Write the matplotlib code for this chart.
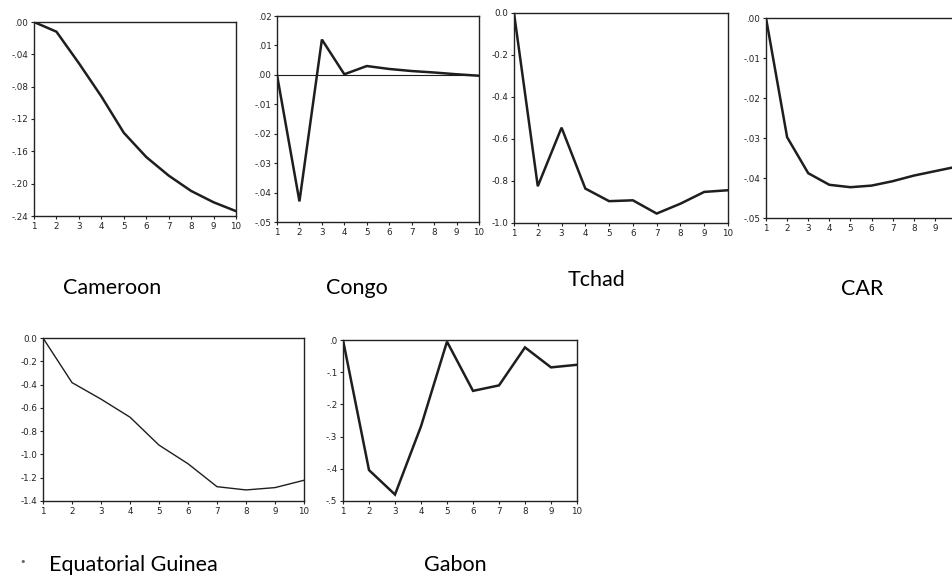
import matplotlib
matplotlib.use("Agg")
import matplotlib.pyplot as plt

periods = [1, 2, 3, 4, 5, 6, 7, 8, 9, 10]

cameroon = [0.0, -0.012, -0.051, -0.092, -0.137, -0.167, -0.190, -0.209, -0.223, -0.234]
congo = [0.0, -0.043, 0.012, 0.0002, 0.003, 0.002, 0.0013, 0.0008, 0.0002, -0.0003]
tchad = [0.0, -0.825, -0.546, -0.836, -0.896, -0.892, -0.955, -0.908, -0.852, -0.844]
car = [0.0, -0.0298, -0.0388, -0.0417, -0.0423, -0.0419, -0.0408, -0.0394, -0.0383, -0.0372]
eq_guinea = [0.0, -0.383, -0.525, -0.68, -0.92, -1.08, -1.277, -1.305, -1.285, -1.222]
gabon = [0.0, -0.404, -0.48, -0.268, -0.005, -0.158, -0.141, -0.023, -0.085, -0.077]

names = ["Cameroon", "Congo", "Tchad", "CAR", "Equatorial Guinea", "Gabon"]

x_labels = [str(p) for p in periods]
car_x_labels = [str(p) for p in periods[:-1]] + [""]
cam_ticks = [0.0, -0.04, -0.08, -0.12, -0.16, -0.20, -0.24]
cam_labels = [".00", "-.04", "-.08", "-.12", "-.16", "-.20", "-.24"]
con_ticks = [0.02, 0.01, 0.0, -0.01, -0.02, -0.03, -0.04, -0.05]
con_labels = [".02", ".01", ".00", "-.01", "-.02", "-.03", "-.04", "-.05"]
tch_ticks = [0.0, -0.2, -0.4, -0.6, -0.8, -1.0]
tch_labels = ["0.0", "-0.2", "-0.4", "-0.6", "-0.8", "-1.0"]
car_ticks = [0.0, -0.01, -0.02, -0.03, -0.04, -0.05]
car_labels = [".00", "-.01", "-.02", "-.03", "-.04", "-.05"]
eqg_ticks = [0.0, -0.2, -0.4, -0.6, -0.8, -1.0, -1.2, -1.4]
eqg_labels = ["0.0", "-0.2", "-0.4", "-0.6", "-0.8", "-1.0", "-1.2", "-1.4"]
gab_ticks = [0.0, -0.1, -0.2, -0.3, -0.4, -0.5]
gab_labels = [".0", "-.1", "-.2", "-.3", "-.4", "-.5"]

W, H = 953, 576
fig = plt.figure(figsize=(W / 100, H / 100), dpi=100)

def box(l, r, t, b):
    return [l / W, 1 - b / H, (r - l) / W, (b - t) / H]

panels = [
    (box(34, 236, 22, 216), cameroon, (-0.24, 0.0), cam_ticks, cam_labels, x_labels, 1.8, False),
    (box(277, 479, 16, 222), congo, (-0.05, 0.02), con_ticks, con_labels, x_labels, 1.8, True),
    (box(514, 728, 13, 223), tchad, (-1.0, 0.0), tch_ticks, tch_labels, x_labels, 1.8, False),
    (box(766, 956, 18, 218), car, (-0.05, 0.0), car_ticks, car_labels, car_x_labels, 1.8, False),
    (box(43, 304, 338, 501), eq_guinea, (-1.4, 0.0), eqg_ticks, eqg_labels, x_labels, 1.0, False),
    (box(343, 577, 340, 501), gabon, (-0.5, 0.0), gab_ticks, gab_labels, x_labels, 1.8, False),
]

for pos, vals, ylim, yt, yl, xl, lw, zero in panels:
    ax = fig.add_axes(pos)
    ax.plot(periods, vals, color="#1e1e1e", lw=lw, solid_joinstyle="miter")
    if zero:
        ax.axhline(0, color="#1e1e1e", lw=0.8)
    ax.set_xlim(1, 10)
    ax.set_ylim(*ylim)
    ax.set_xticks(periods)
    ax.set_xticklabels(xl)
    ax.set_yticks(yt)
    ax.set_yticklabels(yl)
    ax.tick_params(axis="both", direction="out", length=2.5, width=0.8,
                   labelsize=6.3, pad=1.5, colors="#222222")
    for s in ax.spines.values():
        s.set_linewidth(1.0)
        s.set_color("#222222")

label_font = dict(family=["Lato", "DejaVu Sans"], fontsize=15.5, color="black",
                  ha="center", va="baseline")
label_pos = [(112, 294), (357, 294), (597, 286), (862, 295), (133, 571), (455, 571)]
for name, (x, y) in zip(names, label_pos):
    fig.text(x / W, 1 - y / H, name, **label_font)
fig.text(23 / W, 1 - 562 / H, "•", fontsize=8, color="#666666", ha="center", va="center")

fig.savefig("out.png", dpi=100)
